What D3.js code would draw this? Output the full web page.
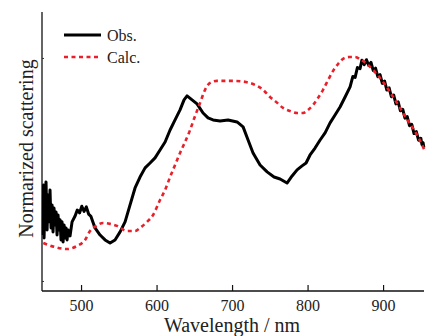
<!DOCTYPE html>
<html lang="en">
<head>
<meta charset="UTF-8">
<title>Normarized scattering</title>
<script src="https://d3js.org/d3.v7.min.js"></script>
<style>
  body { margin: 0; background: #fff; }
  text { font-family: "Liberation Serif", "Times New Roman", serif; fill: #222; }
</style>
</head>
<body>
<div id="chart"></div>
<script>
// observed spectrum: wavelength (nm) and normalized value
const obsWl = [450.0, 450.3, 451.0, 452.3, 453.6, 455.0, 456.3, 457.6, 458.9, 460.3, 461.6, 462.9, 464.2, 465.6,
  466.9, 468.2, 469.5, 470.9, 472.2, 473.5, 474.8, 476.2, 477.5, 478.8, 480.1, 481.5, 482.8, 485.4,
  488.1, 492.1, 495.0, 498.0, 501.0, 504.0, 507.0, 510.0, 513.0, 518.5, 525.2, 531.8, 538.4, 545.0, 551.7,
  558.3, 564.9, 571.5, 578.1, 584.8, 591.4, 598.0, 604.6, 611.3, 617.9, 624.5, 631.1, 636.4, 640.4, 647.0,
  653.6, 661.6, 668.2, 674.8, 684.1, 694.7, 706.6, 714.6, 721.2, 727.8, 737.1, 746.4, 755.6, 763.6, 772.8,
  779.5, 786.1, 792.7, 798.0, 803.3, 809.9, 816.6, 823.2, 829.8, 836.4, 843.0, 849.7, 856.3,
  860, 863, 866, 869.5, 872, 875, 878, 881, 884, 887, 890, 893, 896, 899, 902, 905, 908, 911, 914, 917,
  920, 923, 926, 929, 932, 935, 938, 941, 944, 947, 950, 951.5, 953, 954];
const obsVal = [0.206, 0.430, 0.193, 0.363, 0.444, 0.229, 0.386, 0.265, 0.408, 0.238, 0.341, 0.220, 0.327, 0.251,
  0.309, 0.206, 0.296, 0.229, 0.274, 0.184, 0.265, 0.175, 0.251, 0.193, 0.238, 0.184, 0.229, 0.202,
  0.265, 0.291, 0.318, 0.305, 0.335, 0.312, 0.332, 0.300, 0.290, 0.238, 0.206, 0.184, 0.170, 0.184, 0.220,
  0.265, 0.341, 0.417, 0.466, 0.507, 0.529, 0.552, 0.587, 0.623, 0.677, 0.722, 0.767, 0.812, 0.830, 0.812,
  0.794, 0.753, 0.731, 0.722, 0.717, 0.722, 0.713, 0.691, 0.632, 0.574, 0.520, 0.489, 0.466, 0.457, 0.439,
  0.471, 0.498, 0.516, 0.529, 0.565, 0.596, 0.632, 0.664, 0.709, 0.744, 0.780, 0.825, 0.870,
  0.917, 0.913, 0.957, 0.952, 0.990, 0.970, 0.992, 0.966, 0.980, 0.943, 0.954, 0.916, 0.925, 0.886, 0.896,
  0.856, 0.866, 0.826, 0.834, 0.794, 0.803, 0.763, 0.770, 0.730, 0.737, 0.696, 0.702, 0.661, 0.670, 0.631,
  0.640, 0.612, 0.620, 0.598];

// calculated spectrum
const calcWl = [450.0, 465.6, 481.5, 494.7, 505.3, 511.9, 519.9, 529.1, 538.4, 547.7, 560.9, 571.5, 578.1, 587.4,
  595.4, 604.6, 611.3, 617.9, 624.5, 631.1, 637.7, 644.4, 651.0, 657.6, 664.2, 670.9, 680.1, 690.7, 704.0,
  718.5, 730.5, 741.1, 750.3, 758.3, 767.5, 776.8, 786.1, 794.0, 800.7, 807.3, 813.9, 820.5, 827.2, 833.8,
  840.4, 847.0, 855.0, 862.9, 870.9, 878.8, 886.8, 896.0, 904.0, 913.2, 922.5, 930.5, 938.4, 946.4, 955.0];
const calcVal = [0.170, 0.152, 0.143, 0.157, 0.184, 0.224, 0.247, 0.260, 0.256, 0.247, 0.224, 0.224, 0.238, 0.265,
  0.296, 0.363, 0.408, 0.466, 0.520, 0.574, 0.623, 0.677, 0.740, 0.798, 0.857, 0.888, 0.897, 0.897, 0.897,
  0.892, 0.879, 0.857, 0.825, 0.803, 0.776, 0.762, 0.753, 0.753, 0.767, 0.789, 0.821, 0.857, 0.901, 0.942,
  0.973, 0.996, 1.004, 1.004, 0.991, 0.973, 0.946, 0.910, 0.874, 0.825, 0.776, 0.731, 0.691, 0.646, 0.586];

const xTicks = [500, 600, 700, 800, 900];
const yTicks = [0, 1];
const legendLabels = ["Obs.", "Calc."];

const width = 426, height = 336;
const svg = d3.select("#chart").append("svg")
  .attr("width", width).attr("height", height);

const x = d3.scaleLinear().domain([450, 955]).range([43.3, 424.6]);
const y = d3.scaleLinear().domain([-0.045, 1.206]).range([291, 12]);

// axis lines
svg.append("line").attr("x1", 42).attr("x2", 42).attr("y1", 12).attr("y2", 291)
  .attr("stroke", "#111").attr("stroke-width", 1.3);
svg.append("line").attr("x1", 42).attr("x2", 424).attr("y1", 291).attr("y2", 291)
  .attr("stroke", "#111").attr("stroke-width", 1.3);

// x ticks point inward
const xAxis = svg.append("g").attr("transform", "translate(0,291)")
  .call(d3.axisBottom(x).tickValues(xTicks).tickSizeInner(-6).tickSizeOuter(0).tickPadding(9));
xAxis.select(".domain").remove();
xAxis.selectAll("line").attr("stroke", "#111").attr("stroke-width", 1.2);
xAxis.selectAll("text").attr("font-size", 16).attr("font-family", "Liberation Serif, serif").attr("fill", "#222");

// y ticks, tiny and inward, no labels
const yAxis = svg.append("g").attr("transform", "translate(42,0)")
  .call(d3.axisLeft(y).tickValues(yTicks).tickSizeInner(-2).tickSizeOuter(0).tickFormat(""));
yAxis.select(".domain").remove();
yAxis.selectAll("line").attr("stroke", "#333").attr("stroke-width", 1);

const line = d3.line().x(d => x(d[0])).y(d => y(d[1]));

const calc = calcWl.map((w, i) => [w, calcVal[i]]);
const obs = obsWl.map((w, i) => [w, obsVal[i]]);

svg.append("path").datum(obs)
  .attr("d", line)
  .attr("fill", "none").attr("stroke", "#000").attr("stroke-width", 3)
  .attr("stroke-linejoin", "round");

svg.append("path").datum(calc)
  .attr("d", line.curve(d3.curveMonotoneX))
  .attr("fill", "none").attr("stroke", "#e8202a").attr("stroke-width", 2.6)
  .attr("stroke-dasharray", "4,3.5");

// legend
const leg = svg.append("g");
legendLabels.forEach((lab, i) => {
  const ly = 35 + i * 22;
  leg.append("line").attr("x1", 64).attr("x2", 101).attr("y1", ly).attr("y2", ly)
    .attr("stroke", i === 0 ? "#000" : "#e8202a")
    .attr("stroke-width", i === 0 ? 3 : 2.6)
    .attr("stroke-dasharray", i === 0 ? null : "4,3.5");
  leg.append("text").attr("x", 107).attr("y", ly + 5.5).attr("font-size", 16).text(lab);
});

// axis titles
svg.append("text").attr("x", 232).attr("y", 332).attr("text-anchor", "middle")
  .attr("font-size", 20).text("Wavelength / nm");
svg.append("text").attr("transform", "translate(33,148.5) rotate(-90)")
  .attr("text-anchor", "middle").attr("font-size", 20).text("Normarized scattering");
</script>
</body>
</html>
